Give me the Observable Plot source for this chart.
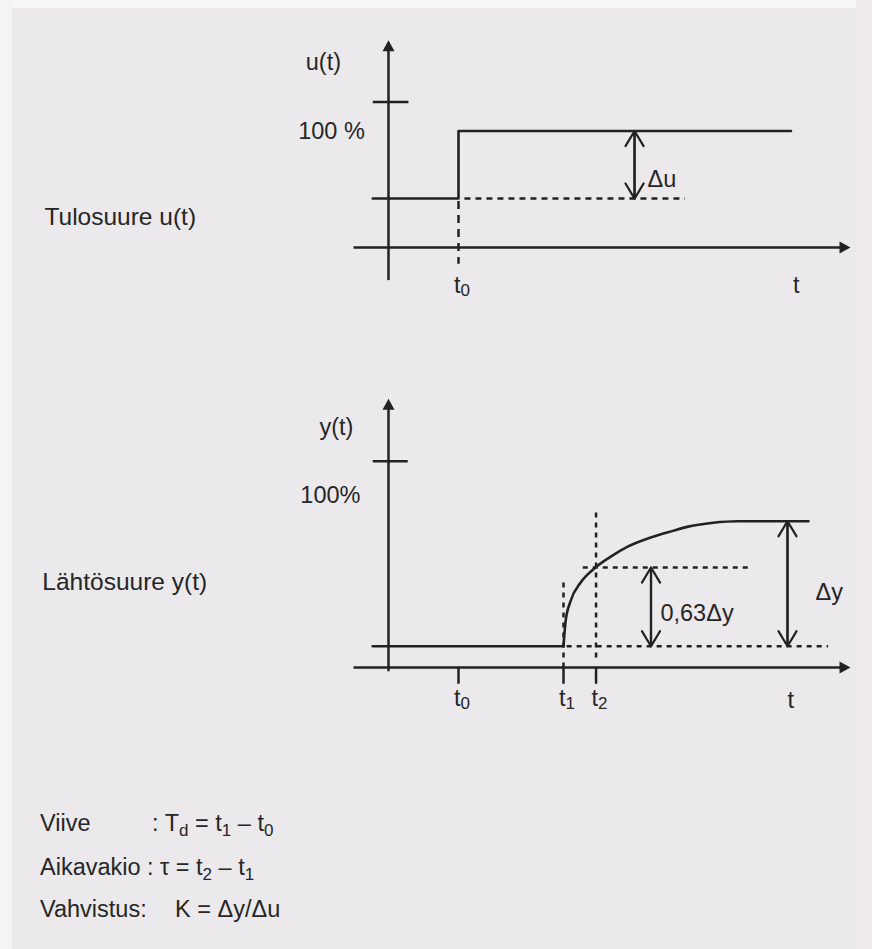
<!DOCTYPE html>
<html lang="fi">
<head>
<meta charset="utf-8">
<title>Askelvaste: viive, aikavakio ja vahvistus</title>
<script src="https://cdn.jsdelivr.net/npm/d3@7"></script>
<script src="https://cdn.jsdelivr.net/npm/@observablehq/plot@0.6"></script>
<style>
  html, body { margin: 0; padding: 0; background: #ebe9ec; }
  #page {
    position: relative; width: 872px; height: 949px; overflow: hidden;
    background: #ebe9ec; color: #262626;
    font-family: "Liberation Sans", Arial, sans-serif;
  }
  .edge-top { position: absolute; left: 0; top: 0; width: 872px; height: 8px; background: #f6f5f7; }
  .edge-left { position: absolute; left: 0; top: 0; width: 12px; height: 949px; background: #f4f3f6; }
  .edge-right { position: absolute; right: 0; top: 0; width: 16px; height: 949px; background: #efebee; }
  #input { position: absolute; left: 0; top: 0; }
  #output { position: absolute; left: 0; top: 320px; }
  #defs { position: absolute; left: 40px; top: 0; width: 400px; height: 949px; font-size: 23.5px; line-height: 23px; }
  #defs .row { position: absolute; left: 0; white-space: pre; }
  #defs .f { position: absolute; white-space: pre; }
  #defs sub { font-size: 17px; vertical-align: -5px; line-height: 0; }
</style>
</head>
<body>
<div id="page">
  <div class="edge-top"></div>
  <div class="edge-left"></div>
  <div class="edge-right"></div>
  <div id="input"></div>
  <div id="output"></div>
  <div id="defs">
    <div class="row" style="top:812px">Viive<span class="f" style="left:112px">: T<sub>d</sub> = t<sub>1</sub> – t<sub>0</sub></span></div>
    <div class="row" style="top:856px">Aikavakio : <span class="f" style="left:120px">τ = t<sub>2</sub> – t<sub>1</sub></span></div>
    <div class="row" style="top:898px">Vahvistus:<span class="f" style="left:135px">K = Δy/Δu</span></div>
  </div>
</div>
<script>
// Time instants on the t axis (same time unit in both diagrams)
const t0 = 2.0;    // input step
const t1 = 5.0;    // output starts to rise
const t2 = 5.93;   // output reaches 63 % of its change

// Input u(t), in percent: a step at t0
const inputTimes  = [-0.45, t0, t0, 11.5];
const inputLevels = [42, 42, 100, 100];
const uBefore = 42, uAfter = 100;

// Output y(t): resting level, then the response curve and its final level
const yBefore = 0.17, yAfter = 1.17;
const dy = yAfter - yBefore;
const y63 = yBefore + 0.63 * dy;
const restTimes  = [-0.45, t1];
const restLevels = [yBefore, yBefore];
const responseTimes  = [t1, 5.06, 5.2, 5.49, 5.87, 6.34, 6.82, 7.49, 8.15, 8.53, 9.28, 9.98, 12.0];
const responseLevels = [0.17, 0.37, 0.53, 0.68, 0.79, 0.885, 0.965, 1.04, 1.095, 1.125, 1.158, 1.17, 1.17];

// Tick labels under the time axes
const inputTickLabels  = [{t: t0, sub: "0"}];
const outputTickLabels = [{t: t0, sub: "0"}, {t: t1, sub: "1"}, {t: t2, sub: "2"}];

const INK = "#222222";
const TEXT = "#262626";
const FONT = "Liberation Sans, Arial, sans-serif";
const LW = 2.5;

// Filled arrowheads with the tip at the anchor point
const headRight = {draw(ctx) { ctx.moveTo(0, 0); ctx.lineTo(-11, -6); ctx.lineTo(-11, 6); ctx.closePath(); }};
const headUp    = {draw(ctx) { ctx.moveTo(0, 0); ctx.lineTo(-6, 11); ctx.lineTo(6, 11); ctx.closePath(); }};

const xScale = {domain: [0, 1], range: [388, 423], axis: null};

function seg(x1, y1, x2, y2) { return {x1, y1, x2, y2}; }
function pts(xs, ys) { return xs.map((x, i) => ({x, y: ys[i]})); }
const segOpts = {x1: "x1", y1: "y1", x2: "x2", y2: "y2", stroke: INK, strokeWidth: LW};

function subscriptLabels(labels, yv) {
  return [
    Plot.text(labels, {x: "t", y: () => yv, text: () => "t", textAnchor: "end", dx: 2, fontSize: 23.5, fill: TEXT}),
    Plot.text(labels, {x: "t", y: () => yv, text: "sub", textAnchor: "start", dx: 2, dy: 5, fontSize: 17, fill: TEXT})
  ];
}

function doubleArrow(x, ya, yb) {
  const o = {...segOpts, strokeWidth: 2.2, headLength: 12, headAngle: 62};
  return [
    Plot.arrow([seg(x, ya, x, yb)], o),
    Plot.arrow([seg(x, yb, x, ya)], o)
  ];
}

// ---- Tulosuure u(t) ----
const inputPlot = Plot.plot({
  width: 872, height: 320,
  margin: 0,
  style: {background: "transparent", fontFamily: FONT, color: TEXT},
  x: xScale,
  y: {domain: [0, 100], range: [247, 130.5], axis: null},
  marks: [
    // axes
    Plot.link([seg(-1, 0, 13.0, 0), seg(0, -28, 0, 172)], segOpts),
    Plot.dot([{x: 13.2, y: 0}], {x: "x", y: "y", symbol: headRight, fill: INK, stroke: "none"}),
    Plot.dot([{x: 0, y: 178}], {x: "x", y: "y", symbol: headUp, fill: INK, stroke: "none"}),
    Plot.link([seg(-0.45, 125, 0.57, 125)], segOpts),
    // step
    Plot.line(pts(inputTimes, inputLevels), {x: "x", y: "y", stroke: INK, strokeWidth: 2.6}),
    // guides
    Plot.link([seg(2.17, uBefore, 8.47, uBefore)], {...segOpts, strokeDasharray: "6,5"}),
    Plot.link([seg(t0, uBefore - 2, t0, -14)], {...segOpts, strokeDasharray: "8,6"}),
    ...doubleArrow(7.03, uBefore, uAfter),
    // labels
    Plot.text([{x: -1.86, y: 159, s: "u(t)"}, {x: -1.63, y: 100, s: "100 %"}], {x: "x", y: "y", text: "s", fontSize: 23.5, fill: TEXT}),
    Plot.text([{x: 7.4, y: 58, s: "Δu"}], {x: "x", y: "y", text: "s", textAnchor: "start", fontSize: 23.5, fill: TEXT}),
    Plot.text([{x: -9.83, y: 26, s: "Tulosuure u(t)"}], {x: "x", y: "y", text: "s", textAnchor: "start", fontSize: 24.5, fill: TEXT}),
    Plot.text([{x: 11.65, y: -33, s: "t"}], {x: "x", y: "y", text: "s", fontSize: 23.5, fill: TEXT}),
    ...subscriptLabels(inputTickLabels, -33)
  ]
});
document.getElementById("input").appendChild(inputPlot);

// ---- Lähtösuure y(t) ----
const outputPlot = Plot.plot({
  width: 872, height: 400,
  margin: 0,
  style: {background: "transparent", fontFamily: FONT, color: TEXT},
  x: xScale,
  y: {domain: [0, 1], range: [347, 222], axis: null},
  marks: [
    // axes
    Plot.link([seg(-1, 0, 13.0, 0), seg(0, -0.03, 0, 2.1)], segOpts),
    Plot.dot([{x: 13.2, y: 0}], {x: "x", y: "y", symbol: headRight, fill: INK, stroke: "none"}),
    Plot.dot([{x: 0, y: 2.15}], {x: "x", y: "y", symbol: headUp, fill: INK, stroke: "none"}),
    Plot.link([seg(-0.45, 1.65, 0.55, 1.65)], segOpts),
    // ticks on the time axis
    Plot.link([t0, t1, t2].map(t => seg(t, 0, t, -0.13)), segOpts),
    // guides
    Plot.link([seg(t1, 0.68, t1, -0.03), seg(t2, 1.24, t2, 0.07)], {...segOpts, strokeDasharray: "5,5"}),
    Plot.link([seg(5.55, y63, 10.4, y63), seg(5.09, yBefore, 12.56, yBefore)], {...segOpts, strokeDasharray: "5,5"}),
    // resting level and response
    Plot.line(pts(restTimes, restLevels), {x: "x", y: "y", stroke: INK, strokeWidth: 2.6}),
    Plot.line(pts(responseTimes, responseLevels), {x: "x", y: "y", stroke: INK, strokeWidth: 2.6, curve: "monotone-x"}),
    ...doubleArrow(7.5, yBefore, y63),
    ...doubleArrow(11.4, yBefore, yAfter),
    // labels
    Plot.text([{x: -1.49, y: 1.92, s: "y(t)"}, {x: -1.66, y: 1.376, s: "100%"}], {x: "x", y: "y", text: "s", fontSize: 23.5, fill: TEXT}),
    Plot.text([{x: 7.77, y: 0.43, s: "0,63Δy"}, {x: 12.2, y: 0.6, s: "Δy"}], {x: "x", y: "y", text: "s", textAnchor: "start", fontSize: 23.5, fill: TEXT}),
    Plot.text([{x: -9.89, y: 0.68, s: "Lähtösuure y(t)"}], {x: "x", y: "y", text: "s", textAnchor: "start", fontSize: 24.5, fill: TEXT}),
    Plot.text([{x: 11.49, y: -0.26, s: "t"}], {x: "x", y: "y", text: "s", fontSize: 23.5, fill: TEXT}),
    ...subscriptLabels(outputTickLabels, -0.25)
  ]
});
document.getElementById("output").appendChild(outputPlot);
</script>
</body>
</html>
